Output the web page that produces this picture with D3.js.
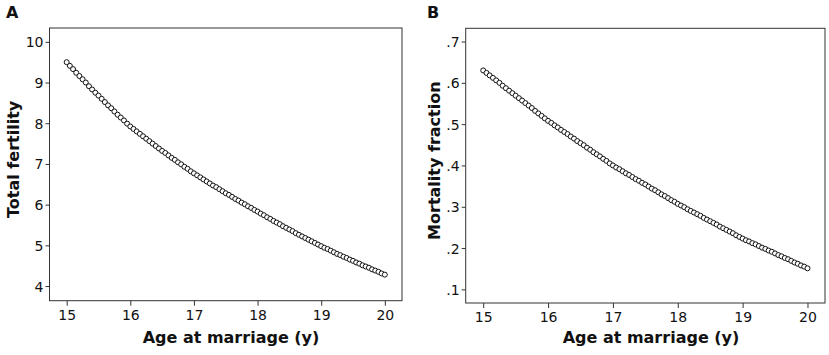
<!DOCTYPE html>
<html>
<head>
<meta charset="utf-8">
<script src="https://cdn.jsdelivr.net/npm/d3@7"></script>
<style>
  body { margin: 0; background: #fff; }
  svg { display: block; }
  .tick text { font-family: "DejaVu Sans", sans-serif; font-size: 14px; fill: #111; }
  .axis-title { font-family: "DejaVu Sans", sans-serif; font-weight: bold; font-size: 16px; fill: #111; }
  .panel-label { font-family: "DejaVu Sans", sans-serif; font-weight: bold; font-size: 16px; fill: #111; }
</style>
</head>
<body>
<svg id="chart" width="829" height="355"></svg>
<script>
// age at marriage (y), one point every 0.05 y
const ages = [
  15.00,15.05,15.10,15.15,15.20,15.25,15.30,15.35,15.40,15.45,15.50,15.55,15.60,15.65,15.70,15.75,15.80,15.85,15.90,15.95,
  16.00,16.05,16.10,16.15,16.20,16.25,16.30,16.35,16.40,16.45,16.50,16.55,16.60,16.65,16.70,16.75,16.80,16.85,16.90,16.95,
  17.00,17.05,17.10,17.15,17.20,17.25,17.30,17.35,17.40,17.45,17.50,17.55,17.60,17.65,17.70,17.75,17.80,17.85,17.90,17.95,
  18.00,18.05,18.10,18.15,18.20,18.25,18.30,18.35,18.40,18.45,18.50,18.55,18.60,18.65,18.70,18.75,18.80,18.85,18.90,18.95,
  19.00,19.05,19.10,19.15,19.20,19.25,19.30,19.35,19.40,19.45,19.50,19.55,19.60,19.65,19.70,19.75,19.80,19.85,19.90,19.95,
  20.00
];

// panel A
const fertility = [
  9.50,9.41,9.33,9.24,9.16,9.08,9.00,8.91,8.83,8.75,8.68,8.60,8.52,8.44,8.37,8.29,8.21,8.14,8.07,7.99,
  7.92,7.86,7.80,7.74,7.68,7.62,7.56,7.50,7.44,7.38,7.32,7.27,7.21,7.15,7.10,7.04,6.99,6.93,6.88,6.82,
  6.77,6.72,6.67,6.62,6.57,6.52,6.47,6.43,6.38,6.33,6.28,6.24,6.19,6.14,6.10,6.05,6.01,5.96,5.92,5.87,
  5.83,5.78,5.74,5.69,5.65,5.60,5.56,5.52,5.47,5.43,5.39,5.35,5.30,5.26,5.22,5.18,5.14,5.10,5.06,5.02,
  4.98,4.94,4.91,4.87,4.83,4.79,4.76,4.72,4.69,4.65,4.62,4.58,4.55,4.51,4.48,4.45,4.41,4.38,4.35,4.31,
  4.28
];

// panel B
const mortality = [
  .630,.624,.618,.612,.606,.600,.593,.587,.581,.575,.569,.563,.557,.551,.545,.539,.532,.526,.520,.514,
  .508,.503,.497,.492,.486,.481,.476,.470,.465,.459,.454,.449,.443,.438,.432,.427,.422,.416,.411,.405,
  .400,.395,.391,.386,.381,.377,.372,.367,.363,.358,.354,.349,.344,.340,.335,.330,.326,.321,.316,.312,
  .307,.303,.299,.294,.290,.286,.282,.278,.273,.269,.265,.261,.257,.252,.248,.244,.240,.236,.231,.227,
  .223,.219,.216,.212,.209,.205,.201,.198,.194,.191,.187,.183,.180,.176,.173,.169,.165,.162,.158,.155,
  .151
];

const xTicks = [15, 16, 17, 18, 19, 20];
const fertilityTicks = [4, 5, 6, 7, 8, 9, 10];
const mortalityTicks = [.1, .2, .3, .4, .5, .6, .7];

const svg = d3.select("#chart");

function panel({label, values, yDomain, yTicks, yFormat, yTitle,
                left, right, top, bottom, labelX, yTitleX, xTitleX}) {

    const x = d3.scaleLinear().domain([14.73, 20.27]).range([left, right]);
    const y = d3.scaleLinear().domain(yDomain).range([bottom, top]);

    const g = svg.append("g");

    // frame
    g.append("rect")
        .attr("x", left)
        .attr("y", top)
        .attr("width", right - left)
        .attr("height", bottom - top)
        .attr("fill", "none")
        .attr("stroke", "#333")
        .attr("stroke-width", 1);

    g.append("g")
        .attr("transform", `translate(0,${bottom})`)
        .call(d3.axisBottom(x).tickValues(xTicks).tickSize(5).tickPadding(4).tickFormat(d3.format("d")))
        .call(a => a.select(".domain").remove())
        .call(a => a.selectAll(".tick line").attr("stroke", "#333"));

    g.append("g")
        .attr("transform", `translate(${left},0)`)
        .call(d3.axisLeft(y).tickValues(yTicks).tickSize(4).tickPadding(2).tickFormat(yFormat))
        .call(a => a.select(".domain").remove())
        .call(a => a.selectAll(".tick line").attr("stroke", "#333"))
        .call(a => a.selectAll(".tick text").attr("dy", "0.36em"));

    g.append("g")
        .selectAll("circle")
        .data(ages.map((a, i) => [a, values[i]]))
        .join("circle")
        .attr("cx", d => x(d[0]))
        .attr("cy", d => y(d[1]))
        .attr("r", 2.5)
        .attr("fill", "#fff")
        .attr("stroke", "#111")
        .attr("stroke-width", 1);

    g.append("text")
        .attr("class", "axis-title")
        .attr("x", xTitleX)
        .attr("y", 343)
        .attr("text-anchor", "middle")
        .text("Age at marriage (y)");

    g.append("text")
        .attr("class", "axis-title")
        .attr("transform", `translate(${yTitleX},${(top + bottom) / 2 - 5}) rotate(-90)`)
        .attr("text-anchor", "middle")
        .text(yTitle);

    g.append("text")
        .attr("class", "panel-label")
        .attr("x", labelX)
        .attr("y", 18)
        .text(label);
}

panel({
    label: "A",
    values: fertility,
    yDomain: [3.64, 10.34],
    yTicks: fertilityTicks,
    yFormat: d3.format("d"),
    yTitle: "Total fertility",
    left: 49.5, right: 402, top: 28, bottom: 300.7,
    labelX: 6, yTitleX: 19, xTitleX: 231
});

panel({
    label: "B",
    values: mortality,
    yDomain: [.067, .732],
    yTicks: mortalityTicks,
    yFormat: d => d3.format(".1f")(d).replace(/^0/, ""),
    yTitle: "Mortality fraction",
    left: 465.7, right: 825, top: 28.3, bottom: 303,
    labelX: 427, yTitleX: 440, xTitleX: 651
});
</script>
</body>
</html>
